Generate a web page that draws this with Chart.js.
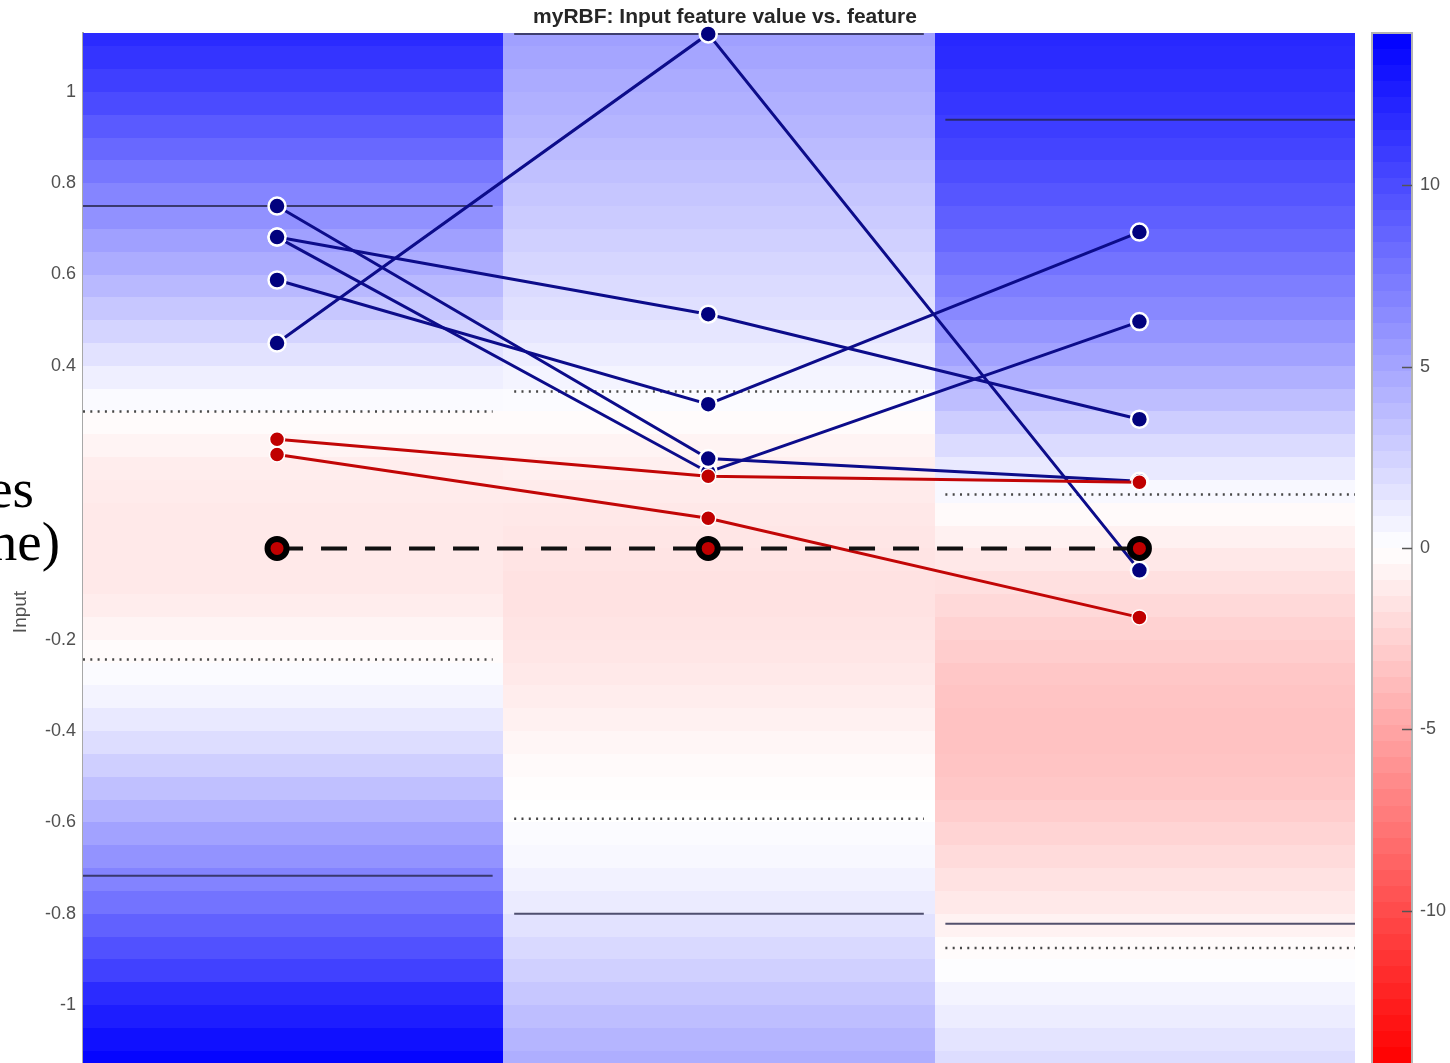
<!DOCTYPE html>
<html>
<head>
<meta charset="utf-8">
<script src="https://cdn.jsdelivr.net/npm/chart.js@4"></script>
<style>
html, body { margin: 0; padding: 0; background: #ffffff; }
canvas { display: block; }
</style>
</head>
<body>
<canvas id="rbf" width="1450" height="1063"></canvas>
<script>
// Feature positions on the x axis
const features = [1, 2, 3];

// Input value of each run at every feature (positive-output runs)
const blueRuns = [
  [0.450, 1.127, -0.048],
  [0.682, 0.513, 0.283],
  [0.588, 0.316, 0.693],
  [0.750, 0.197, 0.147],
  [0.682, 0.167, 0.497]
];
// Negative-output runs
const redRuns = [
  [0.239, 0.158, 0.145],
  [0.206, 0.066, -0.151]
];
// Reference input
const baseline = [0, 0, 0];

// Per-feature reference levels
const solidHigh  = [0.750, 1.127, 0.939];
const solidLow   = [-0.717, -0.800, -0.822];
const dottedHigh = [0.300, 0.344, 0.118];
const dottedLow  = [-0.243, -0.592, -0.875];

// RBF output per input band; bands are 0.05 tall, listed from 1.15 downwards
const bandTop = 1.15;
const bandStep = 0.05;
const heat1 = [11.8, 11.3, 10.7, 10.0, 9.2, 8.4, 7.6, 6.8, 6.1, 5.3, 4.6, 3.9, 3.1, 2.4, 1.6, 0.9,
  0.3, -0.2, -0.6, -1.0, -1.1, -1.2, -1.2, -1.2, -1.2, -1.0, -0.6, -0.2, 0.2, 0.6, 1.2, 1.9,
  2.7, 3.5, 4.3, 5.2, 6.0, 6.9, 7.8, 8.8, 9.7, 10.6, 11.8, 12.6, 13.3, 13.9];
const heat2 = [5.3, 5.0, 4.7, 4.4, 4.1, 3.8, 3.5, 3.2, 2.9, 2.6, 2.3, 2.0, 1.7, 1.4, 1.0, 0.6,
  0.2, -0.2, -0.6, -0.9, -1.1, -1.3, -1.4, -1.5, -1.6, -1.6, -1.5, -1.4, -1.2, -1.0, -0.8, -0.5,
  -0.3, -0.1, 0.0, 0.2, 0.4, 0.7, 1.1, 1.6, 2.1, 2.6, 3.1, 3.6, 4.1, 4.5];
const heat3 = [12.0, 11.8, 11.5, 11.2, 10.8, 10.4, 9.9, 9.4, 8.9, 8.4, 7.8, 7.2, 6.6, 5.9, 5.2, 4.4,
  3.6, 2.8, 2.0, 1.2, 0.4, -0.3, -0.8, -1.3, -1.7, -2.1, -2.5, -2.8, -3.1, -3.3, -3.4, -3.4,
  -3.3, -3.1, -2.8, -2.4, -2.0, -1.6, -1.2, -0.7, -0.2, 0.1, 0.6, 1.0, 1.5, 1.9];
const heatColumns = [heat1, heat2, heat3];

// Axis ticks
const yTicks = [-1, -0.8, -0.6, -0.4, -0.2, 0, 0.2, 0.4, 0.6, 0.8, 1];
const colorTicks = [-10, -5, 0, 5, 10];
const colorLimit = 14.2;

const FONT = "'Liberation Sans', Arial, Helvetica, sans-serif";
const TEXT_GREY = '#505050';

// Blue-white-red colormap: positive outputs blue, negative red
function rbfColor(v) {
  const t = Math.min(Math.abs(v) / colorLimit, 1);
  const c = Math.round(255 * (1 - t));
  return v >= 0 ? `rgb(${c},${c},255)` : `rgb(255,${c},${c})`;
}

function levelLine(values, i, dashed) {
  return {
    data: [{ x: features[i] - 0.45, y: values[i] }, { x: features[i] + 0.5, y: values[i] }],
    borderColor: dashed ? '#474747' : 'rgba(35,35,70,0.78)',
    borderWidth: dashed ? 2.5 : 2,
    borderDash: dashed ? [2, 5.3] : [],
    pointRadius: 0,
    order: 20
  };
}

function runLine(run, color, pointColor, radius, ring) {
  return {
    data: features.map((x, i) => ({ x, y: run[i] })),
    borderColor: color,
    borderWidth: 3,
    pointBackgroundColor: pointColor,
    pointBorderColor: '#ffffff',
    pointBorderWidth: ring,
    pointRadius: radius,
    clip: false
  };
}

const datasets = [];
features.forEach((f, i) => {
  datasets.push(levelLine(solidHigh, i, false));
  datasets.push(levelLine(solidLow, i, false));
  datasets.push(levelLine(dottedHigh, i, true));
  datasets.push(levelLine(dottedLow, i, true));
});
blueRuns.forEach(run => datasets.push(Object.assign(runLine(run, '#0c0c8a', '#02027e', 8.5, 2.5), { order: 6 })));
redRuns.forEach(run => datasets.push(Object.assign(runLine(run, '#c20606', '#c00000', 7.5, 1.5), { order: 4 })));
datasets.push({
  data: features.map((x, i) => ({ x, y: baseline[i] })),
  borderColor: '#111111',
  borderWidth: 4,
  borderDash: [26, 18],
  pointBackgroundColor: '#c00000',
  pointBorderColor: '#000000',
  pointBorderWidth: 6,
  pointRadius: 9.5,
  clip: false,
  order: 2
});

// Banded RBF output behind every feature column
const heatmapPlugin = {
  id: 'heatmap',
  beforeDatasetsDraw(chart) {
    const { ctx, chartArea: a, scales: { x, y } } = chart;
    ctx.save();
    ctx.beginPath();
    ctx.rect(a.left, a.top, a.right - a.left, a.bottom - a.top);
    ctx.clip();
    heatColumns.forEach((col, i) => {
      const x0 = Math.round(x.getPixelForValue(features[i] - 0.475));
      const x1 = Math.round(x.getPixelForValue(features[i] + 0.525));
      col.forEach((v, k) => {
        const y0 = Math.round(y.getPixelForValue(bandTop - k * bandStep));
        const y1 = Math.round(y.getPixelForValue(bandTop - (k + 1) * bandStep));
        ctx.fillStyle = rbfColor(v);
        ctx.fillRect(x0, y0, x1 - x0, y1 - y0);
      });
    });
    ctx.restore();
  }
};

// Colour bar drawn inside the right-hand output scale
const colorbarPlugin = {
  id: 'colorbar',
  afterDraw(chart) {
    const { ctx } = chart;
    const s = chart.scales.cbar;
    const left = s.left + 17, right = s.left + 57;
    const levels = 64;
    const step = 2 * colorLimit / levels;
    ctx.save();
    for (let k = 0; k < levels; k++) {
      const lo = -colorLimit + k * step;
      const y0 = Math.round(s.getPixelForValue(lo + step));
      const y1 = Math.round(s.getPixelForValue(lo));
      ctx.fillStyle = rbfColor(lo + step / 2);
      ctx.fillRect(left, y0, right - left, y1 - y0);
    }
    ctx.strokeStyle = '#b4b4b4';
    ctx.lineWidth = 2;
    ctx.strokeRect(left, s.top, right - left, s.bottom - s.top + 2);
    ctx.strokeStyle = '#555555';
    ctx.lineWidth = 1.5;
    colorTicks.forEach(t => {
      const py = Math.round(s.getPixelForValue(t)) + 0.5;
      ctx.beginPath();
      ctx.moveTo(right - 10, py);
      ctx.lineTo(right, py);
      ctx.stroke();
    });
    ctx.restore();
  }
};

// Slide text box on the left edge and the y axis label
const overlayPlugin = {
  id: 'overlay',
  afterDraw(chart) {
    const { ctx } = chart;
    ctx.save();
    ctx.fillStyle = '#ffffff';
    ctx.fillRect(0, 388, 82, 202);
    ctx.fillStyle = '#000000';
    ctx.font = "55px 'Liberation Serif', 'Times New Roman', serif";
    ctx.textAlign = 'right';
    ctx.textBaseline = 'alphabetic';
    ctx.fillText('es', 34, 507);
    ctx.fillText('ne)', 60, 560);
    ctx.translate(21, 612);
    ctx.rotate(-Math.PI / 2);
    ctx.fillStyle = TEXT_GREY;
    ctx.font = '19px ' + FONT;
    ctx.textAlign = 'center';
    ctx.textBaseline = 'middle';
    ctx.fillText('Input', 0, 0);
    ctx.restore();
  }
};

new Chart(document.getElementById('rbf'), {
  type: 'line',
  data: { datasets },
  plugins: [heatmapPlugin, colorbarPlugin, overlayPlugin],
  options: {
    responsive: false,
    animation: false,
    devicePixelRatio: 1,
    layout: { padding: 0, autoPadding: false },
    elements: { line: { tension: 0 } },
    plugins: {
      legend: { display: false },
      tooltip: { enabled: false },
      title: {
        display: true,
        text: 'myRBF: Input feature value vs. feature',
        color: '#262626',
        font: { family: FONT, size: 21, weight: 'bold' },
        padding: { top: 5, bottom: 2.8 }
      }
    },
    scales: {
      x: { type: 'linear', min: 0.55, max: 3.5, display: false },
      y: {
        type: 'linear',
        position: 'left',
        min: -1.127,
        max: 1.129,
        afterBuildTicks(s) { s.ticks = yTicks.map(v => ({ value: v })); },
        afterFit(s) { s.width = 83; s.paddingTop = 0; s.paddingBottom = 0; },
        grid: { display: false, drawTicks: false },
        border: { display: true, color: '#a8a8a8', width: 2 },
        ticks: {
          padding: 7,
          color: TEXT_GREY,
          font: { family: FONT, size: 18 },
          callback: v => String(+Number(v).toFixed(1))
        }
      },
      cbar: {
        type: 'linear',
        position: 'right',
        min: -colorLimit,
        max: colorLimit,
        afterBuildTicks(s) { s.ticks = colorTicks.map(v => ({ value: v })); },
        afterFit(s) { s.width = 95; s.paddingTop = 0; s.paddingBottom = 0; },
        grid: { display: false, drawTicks: false },
        border: { display: false },
        ticks: {
          padding: 65,
          color: TEXT_GREY,
          font: { family: FONT, size: 18 },
          callback: v => String(v)
        }
      }
    }
  }
});
</script>
</body>
</html>
